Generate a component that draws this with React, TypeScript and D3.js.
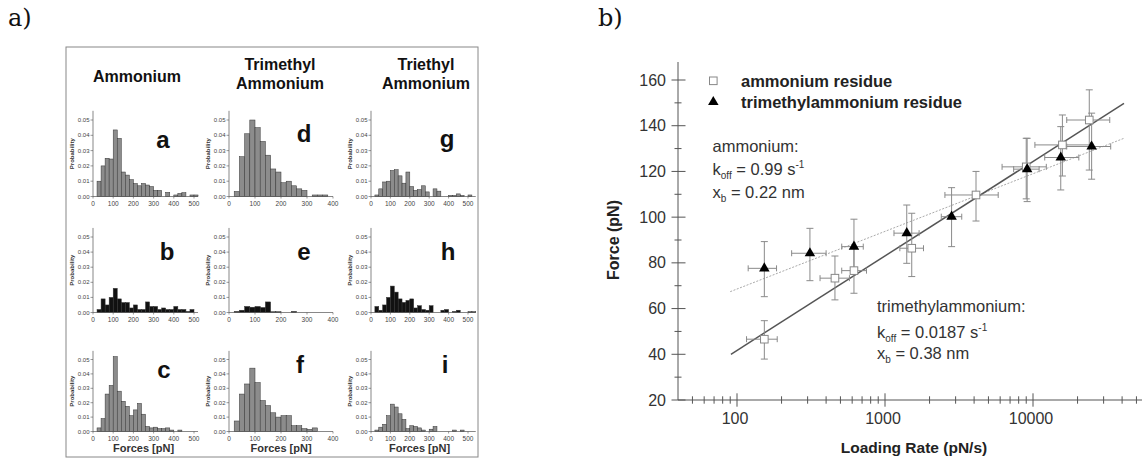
import * as d3 from 'd3';
import React from 'react';

// ---- left figure: force histograms (bins of 20 pN starting at 20 pN) ----
const panelA = [0.010, 0.020, 0.025, 0.0245, 0.0435, 0.038, 0.016, 0.014, 0.011, 0.0085, 0.007, 0.0085, 0.0075, 0.0065, 0.004, 0.004, 0, 0.0027, 0, 0.001, 0.002, 0.0025, 0, 0.001, 0.001];
const panelB = [0.002, 0.009, 0.005, 0.010, 0.016, 0.009, 0.0066, 0.0066, 0.003, 0.005, 0.002, 0.002, 0.007, 0.004, 0.004, 0.002, 0.003, 0.002, 0.002, 0.004, 0.002, 0.002, 0.0007, 0.002];
const panelC = [0.0025, 0.009, 0.026, 0.032, 0.052, 0.028, 0.021, 0.0175, 0.011, 0.015, 0.0195, 0.012, 0.0035, 0.0025, 0.003, 0.002, 0.002, 0.0025, 0.001, 0, 0.001];
const panelD = [0.0033, 0.026, 0.041, 0.050, 0.045, 0.036, 0.027, 0.018, 0.016, 0.009, 0.010, 0.007, 0.005, 0.004, 0, 0.001, 0.001, 0.001];
const panelE = [0.0007, 0.0015, 0.004, 0.0035, 0.004, 0.0033, 0.007, 0.0005, 0.0005, 0, 0, 0.0007];
const panelF = [0.0073, 0.026, 0.033, 0.044, 0.034, 0.0215, 0.018, 0.013, 0.010, 0.011, 0.011, 0.004, 0.004, 0.002, 0.0015, 0.0025];
const panelG = [0.001, 0.005, 0.0095, 0.010, 0.017, 0.0175, 0.0135, 0.0087, 0.016, 0.0065, 0.004, 0.0045, 0.007, 0.003, 0, 0.005, 0.0035, 0, 0, 0.0007, 0.0007, 0.0017, 0.0007, 0, 0.001];
const panelH = [0.004, 0.0015, 0.005, 0.010, 0.0175, 0.0135, 0.009, 0.0067, 0.008, 0.009, 0.003, 0.0045, 0.002, 0.0015, 0.0045, 0, 0, 0.0015, 0.002, 0, 0.0007, 0.0015, 0, 0, 0.0005, 0.0005];
const panelI = [0.001, 0.003, 0.005, 0.011, 0.019, 0.017, 0.0123, 0.0084, 0.002, 0.004, 0.0035, 0.0025, 0.001, 0, 0.0016, 0.0035, 0, 0, 0, 0, 0.001, 0, 0.001];

const probTicks = [0, 0.01, 0.02, 0.03, 0.04, 0.05];
const forceTicks500 = [0, 100, 200, 300, 400, 500];
const forceTicks400 = [0, 100, 200, 300, 400];
const binWidth = 20;
const firstBin = 20;

// ---- right figure: loading rate vs rupture force ----
const ammonium = [
  { rate: 153, force: 46.6, f0: 37.9, f1: 54.7, r0: 116, r1: 187 },
  { rate: 459, force: 73.3, f0: 63.8, f1: 83, r0: 364, r1: 575 },
  { rate: 617, force: 76.6, f0: 66.7, f1: 86.5, r0: 510, r1: 750 },
  { rate: 1516, force: 86.4, f0: 74, f1: 101.7, r0: 1260, r1: 1820 },
  { rate: 4120, force: 109.7, f0: 98.3, f1: 120, r0: 2540, r1: 5820 },
  { rate: 9000, force: 122, f0: 108, f1: 134.5, r0: 6180, r1: 12300 },
  { rate: 15800, force: 131.6, f0: 118, f1: 144.7, r0: 10300, r1: 24500 },
  { rate: 24000, force: 142.5, f0: 120.6, f1: 155.7, r0: 16900, r1: 33000 }
];
const trimethyl = [
  { rate: 153, force: 77.6, f0: 65.2, f1: 89.3, r0: 119, r1: 185 },
  { rate: 311, force: 84.2, f0: 72.2, f1: 95.1, r0: 234, r1: 400 },
  { rate: 617, force: 87.1, f0: 75, f1: 99.1, r0: 510, r1: 713 },
  { rate: 1403, force: 93, f0: 79.8, f1: 105.3, r0: 1150, r1: 1700 },
  { rate: 2818, force: 100.2, f0: 87.1, f1: 112.9, r0: 2400, r1: 3300 },
  { rate: 9130, force: 121, f0: 106.8, f1: 134.5, r0: 7400, r1: 11000 },
  { rate: 15400, force: 126.1, f0: 111.9, f1: 139.6, r0: 12000, r1: 20400 },
  { rate: 24900, force: 130.9, f0: 116.6, f1: 145.5, r0: 16900, r1: 33500 }
];
const ammoniumFit = [{ rate: 91, force: 40 }, { rate: 41200, force: 149.8 }];
const trimethylFit = [{ rate: 90, force: 67.4 }, { rate: 41200, force: 134.5 }];
const forceMajor = [20, 40, 60, 80, 100, 120, 140, 160];
const forceMinor = [30, 50, 70, 90, 110, 130, 150];
const rateMajor = [100, 1000, 10000];
const rateMinor = [50, 60, 70, 80, 90, 200, 300, 400, 500, 600, 700, 800, 900, 2000, 3000, 4000, 5000, 6000, 7000, 8000, 9000, 20000, 30000, 40000, 50000];

const sans = 'Liberation Sans, Arial, sans-serif';

function Histogram({ probs, x0, pxPer, xMax, xTicks, base, px01, fill, letter, lx, ly, xlabel }) {
  const x = d3.scaleLinear().domain([0, xMax]).range([x0, x0 + xMax * pxPer]);
  const y = d3.scaleLinear().domain([0, 0.056]).range([base, base - 5.6 * px01]);
  const mid = (y(0) + y(0.056)) / 2;
  return (
    <g fontFamily={sans}>
      {probs.map((p, i) =>
        p > 0 ? (
          <rect key={i} x={x(firstBin + i * binWidth)} y={y(p)}
            width={x(firstBin + (i + 1) * binWidth) - x(firstBin + i * binWidth)}
            height={y(0) - y(p)} fill={fill} stroke="#333" strokeWidth={0.5} />
        ) : null
      )}
      <line x1={x0} x2={x0} y1={y(0)} y2={y(0.056)} stroke="#555" strokeWidth={0.7} />
      <line x1={x0} x2={x(xMax)} y1={y(0)} y2={y(0)} stroke="#555" strokeWidth={0.7} />
      {probTicks.map(t => (
        <g key={t}>
          <line x1={x0 - 2.5} x2={x0} y1={y(t)} y2={y(t)} stroke="#555" strokeWidth={0.6} />
          <text x={x0 - 3.5} y={y(t) + 2} fontSize={6} textAnchor="end" fill="#444">{t.toFixed(2)}</text>
        </g>
      ))}
      {xTicks.map(t => (
        <g key={t}>
          <line x1={x(t)} x2={x(t)} y1={y(0)} y2={y(0) + 2} stroke="#555" strokeWidth={0.6} />
          <text x={x(t)} y={y(0) + 9} fontSize={6.5} textAnchor="middle" fill="#444">{t}</text>
        </g>
      ))}
      <text transform={`translate(${x0 - 19},${mid}) rotate(-90)`} fontSize={6} fontWeight="bold" textAnchor="middle" fill="#333">Probability</text>
      <text x={lx} y={ly} fontSize={24} fontWeight="bold" textAnchor="middle" fill="#111">{letter}</text>
      {xlabel ? (
        <text x={(x(0) + x(500 > xMax ? xMax : 500)) / 2} y={y(0) + 20} fontSize={11} fontWeight="bold" textAnchor="middle" fill="#333">Forces [pN]</text>
      ) : null}
    </g>
  );
}

export default function App() {
  const cols = [
    { x0: 93, pxPer: 0.202, xMax: 520, ticks: forceTicks500 },
    { x0: 229, pxPer: 0.26, xMax: 400, ticks: forceTicks400 },
    { x0: 371, pxPer: 0.194, xMax: 540, ticks: forceTicks500 }
  ];
  const rows = [
    { base: 196.5, px01: 15.3 },
    { base: 312.5, px01: 15.1 },
    { base: 431.5, px01: 14.4 }
  ];
  const panels = [
    { c: 0, r: 0, probs: panelA, fill: '#8c8c8c', letter: 'a', lx: 163, ly: 148 },
    { c: 0, r: 1, probs: panelB, fill: '#111', letter: 'b', lx: 167, ly: 260 },
    { c: 0, r: 2, probs: panelC, fill: '#8c8c8c', letter: 'c', lx: 164, ly: 378 },
    { c: 1, r: 0, probs: panelD, fill: '#8c8c8c', letter: 'd', lx: 304, ly: 142 },
    { c: 1, r: 1, probs: panelE, fill: '#111', letter: 'e', lx: 304, ly: 260 },
    { c: 1, r: 2, probs: panelF, fill: '#8c8c8c', letter: 'f', lx: 300, ly: 373 },
    { c: 2, r: 0, probs: panelG, fill: '#8c8c8c', letter: 'g', lx: 447, ly: 147 },
    { c: 2, r: 1, probs: panelH, fill: '#111', letter: 'h', lx: 448, ly: 260 },
    { c: 2, r: 2, probs: panelI, fill: '#8c8c8c', letter: 'i', lx: 445, ly: 373 }
  ];

  const xs = d3.scaleLog().domain([100, 10000]).range([737, 1033]);
  const ys = d3.scaleLinear().domain([20, 160]).range([400, 80]);
  const fitLine = d3.line().x(d => xs(d.rate)).y(d => ys(d.force));
  const tri = d3.symbol().type(d3.symbolTriangle).size(48)();
  const ecol = '#8a8a8a';

  const errorBars = (data, key) =>
    data.map((d, i) => (
      <g key={key + i} stroke={ecol} strokeWidth={1} fill="none">
        <line x1={xs(d.rate)} x2={xs(d.rate)} y1={ys(d.f0)} y2={ys(d.f1)} />
        <line x1={xs(d.rate) - 3.5} x2={xs(d.rate) + 3.5} y1={ys(d.f0)} y2={ys(d.f0)} />
        <line x1={xs(d.rate) - 3.5} x2={xs(d.rate) + 3.5} y1={ys(d.f1)} y2={ys(d.f1)} />
        <line x1={xs(d.r0)} x2={xs(d.r1)} y1={ys(d.force)} y2={ys(d.force)} />
        <line x1={xs(d.r0)} x2={xs(d.r0)} y1={ys(d.force) - 3} y2={ys(d.force) + 3} />
        <line x1={xs(d.r1)} x2={xs(d.r1)} y1={ys(d.force) - 3} y2={ys(d.force) + 3} />
      </g>
    ));

  return (
    <svg width={1142} height={459} style={{ position: 'absolute', left: 0, top: 0, background: '#fff' }}>
      <text x={8} y={26} fontSize={24} fontFamily="DejaVu Serif, serif" fill="#111">a)</text>
      <text x={598} y={26} fontSize={24} fontFamily="DejaVu Serif, serif" fill="#111">b)</text>

      {/* left framed figure */}
      <rect x={66} y={47} width={412} height={410} fill="none" stroke="#888" strokeWidth={1} />
      <g fontFamily={sans} fontWeight="bold" fontSize={16} textAnchor="middle" fill="#111">
        <text x={137} y={82}>Ammonium</text>
        <text x={280} y={70}>Trimethyl</text>
        <text x={280} y={89}>Ammonium</text>
        <text x={426} y={70}>Triethyl</text>
        <text x={426} y={89}>Ammonium</text>
      </g>
      {panels.map((p, i) => {
        const c = cols[p.c];
        const r = rows[p.r];
        return (
          <Histogram key={i} probs={p.probs} x0={c.x0} pxPer={c.pxPer} xMax={c.xMax} xTicks={c.ticks}
            base={r.base} px01={r.px01} fill={p.fill} letter={p.letter} lx={p.lx} ly={p.ly} xlabel={p.r === 2} />
        );
      })}

      {/* right figure */}
      <g fontFamily={sans}>
        <path d={fitLine(trimethylFit)} stroke="#aaa" strokeWidth={1} strokeDasharray="2,1.5" fill="none" />
        <path d={fitLine(ammoniumFit)} stroke="#555" strokeWidth={1.5} fill="none" />
        {errorBars(ammonium, 'a')}
        {errorBars(trimethyl, 't')}
        {ammonium.map((d, i) => (
          <rect key={'s' + i} x={xs(d.rate) - 3.8} y={ys(d.force) - 3.8} width={7.6} height={7.6} fill="#fff" stroke="#888" strokeWidth={1} />
        ))}
        {trimethyl.map((d, i) => (
          <path key={'m' + i} d={tri} transform={`translate(${xs(d.rate)},${ys(d.force)})`} fill="#000" />
        ))}

        {/* axes */}
        <line x1={678} x2={678} y1={400} y2={62} stroke="#555" strokeWidth={1} />
        <line x1={678} x2={1142} y1={400} y2={400} stroke="#555" strokeWidth={1} />
        {forceMajor.map(t => (
          <g key={'fy' + t}>
            <line x1={671.5} x2={685.5} y1={ys(t)} y2={ys(t)} stroke="#555" strokeWidth={1} />
            <text x={666} y={ys(t) + 5.5} fontSize={16} textAnchor="end" fill="#333">{t}</text>
          </g>
        ))}
        {forceMinor.map(t => (
          <line key={'fn' + t} x1={674.5} x2={681.5} y1={ys(t)} y2={ys(t)} stroke="#555" strokeWidth={1} />
        ))}
        {rateMajor.map(t => (
          <g key={'rx' + t}>
            <line x1={xs(t)} x2={xs(t)} y1={393.3} y2={406.7} stroke="#555" strokeWidth={1} />
            <text x={xs(t) - 2} y={424} fontSize={16} textAnchor="middle" fill="#333">{t}</text>
          </g>
        ))}
        {rateMinor.map(t => (
          <line key={'rn' + t} x1={xs(t)} x2={xs(t)} y1={396.3} y2={403.7} stroke="#555" strokeWidth={1} />
        ))}
        <text transform="translate(619,240) rotate(-90)" fontSize={16} fontWeight="bold" textAnchor="middle" fill="#222">Force (pN)</text>
        <text x={914} y={453} fontSize={15.5} fontWeight="bold" textAnchor="middle" fill="#222">Loading Rate (pN/s)</text>

        {/* legend */}
        <rect x={709.5} y={77} width={7.6} height={7.6} fill="#fff" stroke="#888" strokeWidth={1} />
        <path d={tri} transform="translate(713.3,102)" fill="#000" />
        <text x={741} y={86.5} fontSize={16.5} fontWeight="bold" fill="#222">ammonium residue</text>
        <text x={741} y={107.5} fontSize={16.5} fontWeight="bold" fill="#222">trimethylammonium residue</text>

        {/* annotations */}
        <g fontSize={16.5} fill="#333">
          <text x={712.5} y={152}>ammonium:</text>
          <text x={712.5} y={175}>k<tspan fontSize={10} dy={4}>off</tspan><tspan dy={-4}> = 0.99 s</tspan><tspan fontSize={10} dy={-7}>-1</tspan></text>
          <text x={712.5} y={198}>x<tspan fontSize={10} dy={4}>b</tspan><tspan dy={-4}> = 0.22 nm</tspan></text>
          <text x={877} y={312}>trimethylammonium:</text>
          <text x={877} y={338}>k<tspan fontSize={10} dy={4}>off</tspan><tspan dy={-4}> = 0.0187 s</tspan><tspan fontSize={10} dy={-7}>-1</tspan></text>
          <text x={877} y={359}>x<tspan fontSize={10} dy={4}>b</tspan><tspan dy={-4}> = 0.38 nm</tspan></text>
        </g>
      </g>
    </svg>
  );
}
